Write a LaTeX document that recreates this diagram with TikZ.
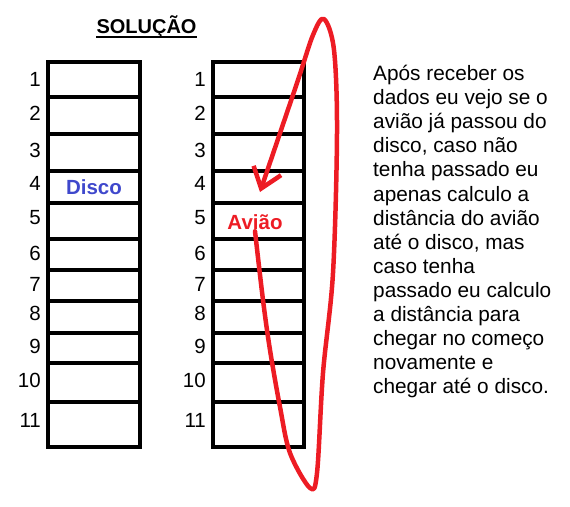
\documentclass[tikz,border=0pt]{standalone}
\usepackage{fontspec}
\setmainfont{Liberation Sans}
\usetikzlibrary{arrows.meta}
\definecolor{paintred}{HTML}{ED1C24}
\definecolor{discoblue}{HTML}{3F48CC}

\begin{document}
\begin{tikzpicture}[x=1pt, y=-1pt, font=\fontsize{20.5}{24}\selectfont,
    grid/.style={line width=4.5pt},
    num/.style={anchor=east, inner sep=0pt},
    tag/.style={font=\fontsize{20.5}{24}\selectfont\bfseries, inner sep=1pt}]

\useasboundingbox (0,0) rectangle (570,506);

\node [font=\fontsize{20}{24}\selectfont\bfseries, inner sep=0pt] (title) at (146.5,27) {SOLUÇÃO};
\draw [line width=2pt] ([yshift=-3pt]title.base west) -- ([yshift=-3pt]title.base east);

% the two columns
\draw [grid] (48,62) rectangle (140,447);
\draw [grid] (213,62) rectangle (304,447);
\foreach \y in {97,134,171,203,239,270,301,333,363,402}
    \draw [grid] (48,\y) -- (140,\y) (213,\y) -- (304,\y);

\foreach \n/\y in {1/79,2/113,3/150,4/183,5/218,6/253,7/284,8/313,9/346.5,10/380.5,11/420.5} {
    \node [num] (l\n) at (41,\y) {\n};
    \node [num] (r\n) at (206,\y) {\n};
}

\node [tag, text=discoblue] (disco) at (94,187) {Disco};
\node [tag, text=paintred] (aviao) at (255,222.5) {Avião};

\coordinate (tip) at (260,192);

\draw [paintred, line width=4.5pt, line cap=round, line join=round,
       -{Straight Barb[length=19pt, width=29pt]}]
    plot [smooth, tension=0.55] coordinates {(aviao.south) (263,300) (270,350) (280,407)
        (290,453) (310,488) (317,473) (323,373) (333,273) (337,133) (334,50)
        (324,19) (313,35) (297,83) (tip)};

\node [anchor=north west, align=left, inner sep=0pt, font=\fontsize{20.8}{24.1}\selectfont] (text) at (373,65) {%
    Após receber os\\
    dados eu vejo se o\\
    avião já passou do\\
    disco, caso não\\
    tenha passado eu\\
    apenas calculo a\\
    distância do avião\\
    até o disco, mas\\
    caso tenha\\
    passado eu calculo\\
    a distância para\\
    chegar no começo\\
    novamente e\\
    chegar até o disco.};

\end{tikzpicture}
\end{document}
